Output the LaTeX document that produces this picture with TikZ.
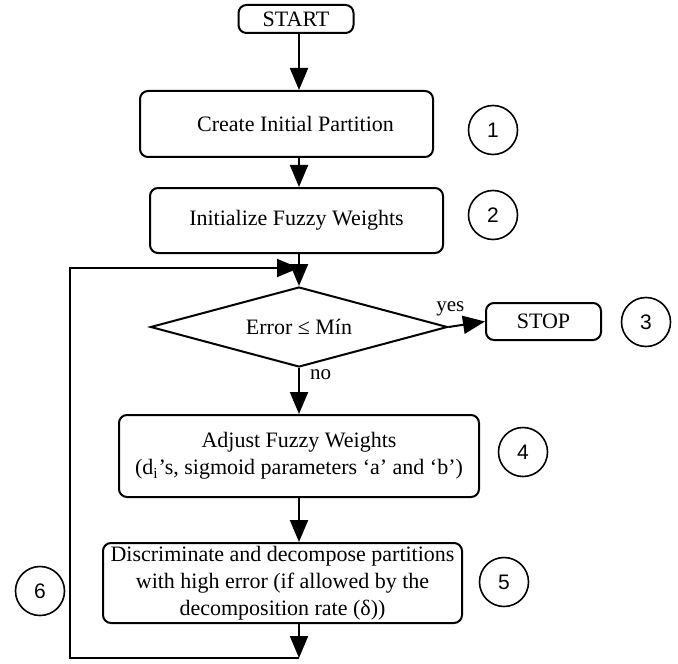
\documentclass[tikz,border=0pt]{standalone}
\usepackage{fontspec}
\setmainfont{Liberation Serif}
\newfontfamily\numfont{Liberation Sans}
\usepackage{tikz}
\usetikzlibrary{arrows.meta,shapes.geometric}

\tikzset{
  box/.style={draw,line width=1pt,rounded corners=4pt,align=center,inner sep=0pt,font=\fontsize{11}{13.5}\selectfont},
  decision/.style={draw,diamond,aspect=3.7,line width=1pt,inner sep=0pt,minimum width=148.5pt,minimum height=40pt,font=\fontsize{11}{13.5}\selectfont},
  flow/.style={line width=1pt,-{Triangle[length=11pt,width=9pt]}},
  tag/.style={draw,circle,line width=0.8pt,minimum size=24.5pt,inner sep=0pt,font=\numfont\fontsize{10.5}{12}\selectfont},
  lbl/.style={font=\fontsize{10.5}{12}\selectfont,inner sep=1pt}
}

\begin{document}
\begin{tikzpicture}[x=0.5pt,y=-0.5pt]
  \useasboundingbox (0,0) rectangle (678,663);
  \coordinate (ax) at (299,0);
  \node[box,minimum width=57.5pt,minimum height=14pt] (start) at (296,19) {START};
  \node[box,minimum width=146.5pt,minimum height=33pt] (create) at (286.5,124) {\hspace*{9pt}Create Initial Partition};
  \node[box,minimum width=146.5pt,minimum height=32.5pt] (init) at (296.5,220.5) {Initialize Fuzzy Weights};
  \node[decision] (err) at (299,327) {Error ≤ Mín};
  \node[box,minimum width=57.5pt,minimum height=18.5pt] (stop) at (543.5,321.5) {STOP};
  \node[box,minimum width=180pt,minimum height=41pt] (adjust) at (299,456) {Adjust Fuzzy Weights\\(d\textsubscript{i}'s, sigmoid parameters `a' and `b')};
  \node[box,minimum width=179.5pt,minimum height=40pt] (discr) at (282.5,583) {Discriminate and decompose partitions\\with high error (if allowed by the\\decomposition rate (δ))};
  % step numbers
  \foreach \n/\x/\y in {1/493/130, 2/493/215, 3/646/322, 4/523/452, 5/504/582, 6/40/591}
    \node[tag] (n\n) at (\x,\y) {\n};

  \draw[flow] (start.south -| ax) -- (create.north -| ax);
  \draw[flow] (create.south -| ax) -- (init.north -| ax);
  \draw[flow] (init.south -| ax) -- (err.north);
  \draw[flow] (err.east) -- node[lbl,above=4pt,pos=0.05]{yes} (stop.west);
  \draw[flow] (err.south) -- node[lbl,right=4pt,pos=0.15]{no} (adjust.north);
  \draw[flow] (adjust.south) -- (discr.north -| ax);
  % loop back
  \coordinate (loopend) at (299,658);
  \coordinate (loopin) at (299,268);
  \coordinate (lcorner) at (70,658);
  \draw[flow] (discr.south -| ax) -- (loopend);
  \draw[flow] (loopend) -- (lcorner) |- (loopin);
\end{tikzpicture}
\end{document}
